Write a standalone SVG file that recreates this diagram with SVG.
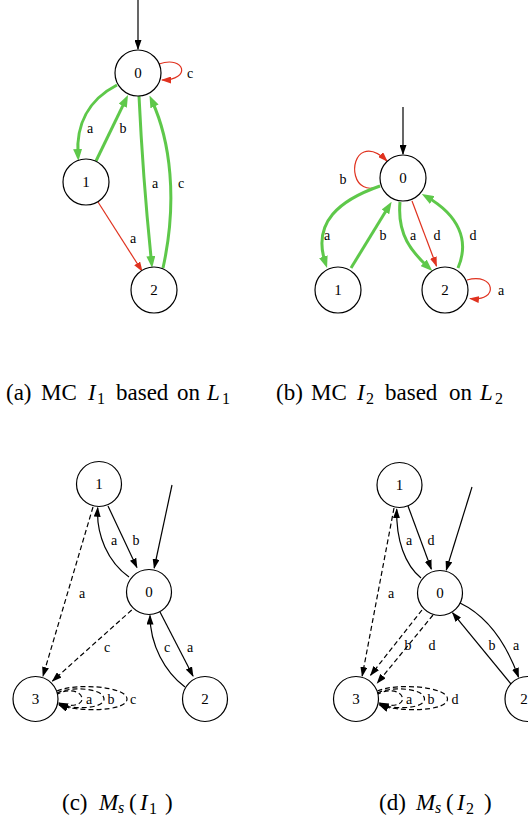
<svg xmlns="http://www.w3.org/2000/svg" width="528" height="818" viewBox="0 0 528 818">
<style>
.n circle{fill:#fff;stroke:#000;stroke-width:1.2}
.n text{font-family:"Liberation Serif",serif;font-size:15px;text-anchor:middle;fill:#000}
.k{fill:none;stroke:#000;stroke-width:1.2;marker-end:url(#aK)}
.d{stroke-dasharray:5,3}
.r{fill:none;stroke:#e0321f;stroke-width:1.2;marker-end:url(#aR)}
.g{fill:none;stroke:#5ec84a;stroke-width:3;marker-end:url(#aG)}
.l text{font-family:"Liberation Serif",serif;font-size:14px;text-anchor:middle;fill:#000}
.cap{font-family:"Liberation Serif",serif;font-size:23px;fill:#000}
.cap .i{font-style:italic}
.cap .s{font-size:16px}
</style>
<defs>
<marker id="aK" viewBox="0 0 10 7" refX="9" refY="3.5" markerWidth="10" markerHeight="7" markerUnits="userSpaceOnUse" orient="auto"><path d="M0,0L10,3.5L0,7z" fill="#000"/></marker>
<marker id="aR" viewBox="0 0 10 7" refX="9" refY="3.5" markerWidth="10" markerHeight="7" markerUnits="userSpaceOnUse" orient="auto"><path d="M0,0L10,3.5L0,7z" fill="#e0321f"/></marker>
<marker id="aG" viewBox="0 0 12 9" refX="6" refY="4.5" markerWidth="12" markerHeight="9" markerUnits="userSpaceOnUse" orient="auto"><path d="M0,0L12,4.5L0,9z" fill="#5ec84a"/></marker>
</defs>

<g id="connectors">
<!-- (a) -->
<path class="k" d="M138,0 L138,49"/>
<path class="r" d="M159,64 C185,55 192,80 162,80"/>
<path class="g" d="M117,85 C88,100 76,125 78,155"/>
<path class="g" d="M96,161 L125.4,100.4"/>
<path class="g" d="M139,96 Q143,180 151.5,262"/>
<path class="g" d="M163,268 C178,200 170,140 152,101"/>
<path class="r" d="M98,202 L142,271"/>
<!-- (b) -->
<path class="k" d="M403,107 L403,154"/>
<path class="r" d="M380,186 C352,198 348,158 364,152 C372,149 380,154 387,161"/>
<path class="g" d="M380,186 C340,200 312,222 325.2,262.3"/>
<path class="g" d="M351,268 L388.5,206.8"/>
<path class="g" d="M400,202 C397,235 412,252 428,267"/>
<path class="r" d="M412,201 L436.5,266"/>
<path class="g" d="M458,268 C470,240 458,215 427,197"/>
<path class="r" d="M467,280 C495,272 500,302 470,298.5"/>
<!-- (c) -->
<path class="k" d="M172,485 L154.2,568"/>
<path class="k" d="M129,577 C108,562 96,535 97.7,507.7"/>
<path class="k" d="M108,506 L136.9,567.4"/>
<path class="k d" d="M93,507 L43,676"/>
<path class="k d" d="M131.7,610 L52.5,681"/>
<path class="k" d="M160,612 L193,676"/>
<path class="k" d="M185,687 C165,672 150,645 150,615.5"/>
<path class="k d" d="M56,695 C66,688 82,690 82,699 C82,706 68,707 59,703"/>
<path class="k d" d="M57,693 C70,686 104,688 104,699 C104,709 72,710 59,704"/>
<path class="k d" d="M57,691 C74,683 127,686 127,699 C127,712 76,712 59,705"/>
<!-- (d) -->
<path class="k" d="M472,487 L446.3,570"/>
<path class="k" d="M421,578 C405,565 396,540 396.7,509.3"/>
<path class="k" d="M408,506 L431.3,569"/>
<path class="k d" d="M394,508 L362.2,676"/>
<path class="k d" d="M422,610 L370.6,675.2"/>
<path class="k d" d="M433,615 L377.3,683"/>
<path class="k" d="M460,603 C485,615 505,640 518.5,677"/>
<path class="k" d="M511,684 L452.6,612.8"/>
<path class="k d" d="M376.5,695 C386.5,688 402.5,690 402.5,699 C402.5,706 388.5,707 379.5,703"/>
<path class="k d" d="M377.5,693 C390.5,686 424.5,688 424.5,699 C424.5,709 392.5,710 379.5,704"/>
<path class="k d" d="M377.5,691 C394.5,683 447.5,686 447.5,699 C447.5,712 396.5,712 379.5,705"/>
</g>

<g id="edge-labels" class="l">
<text x="190" y="78">c</text>
<text x="90" y="133">a</text>
<text x="123" y="133">b</text>
<text x="155" y="188">a</text>
<text x="181" y="188">c</text>
<text x="133" y="243">a</text>

<text x="343" y="184">b</text>
<text x="327" y="240">a</text>
<text x="383" y="240">b</text>
<text x="413" y="240">a</text>
<text x="437" y="240">d</text>
<text x="473" y="240">d</text>
<text x="501" y="295">a</text>

<text x="114" y="545">a</text>
<text x="136" y="545">b</text>
<text x="82" y="598">a</text>
<text x="107" y="652">c</text>
<text x="190" y="652">a</text>
<text x="167" y="652">c</text>
<text x="89" y="704">a</text>
<text x="111" y="704">b</text>
<text x="133" y="704">c</text>

<text x="409" y="545">a</text>
<text x="431" y="545">d</text>
<text x="391" y="598">a</text>
<text x="408" y="650">b</text>
<text x="432" y="650">d</text>
<text x="516" y="650">a</text>
<text x="492" y="650">b</text>
<text x="409" y="704">a</text>
<text x="431" y="704">b</text>
<text x="455" y="704">d</text>
</g>

<g id="a0" class="n"><circle cx="138" cy="73" r="23"/><text x="138" y="78">0</text></g>
<g id="a1" class="n"><circle cx="86" cy="182" r="23"/><text x="86" y="187">1</text></g>
<g id="a2" class="n"><circle cx="154" cy="290" r="23"/><text x="154" y="295">2</text></g>

<g id="b0" class="n"><circle cx="403" cy="178" r="23"/><text x="403" y="183">0</text></g>
<g id="b1" class="n"><circle cx="338" cy="290" r="23"/><text x="338" y="295">1</text></g>
<g id="b2" class="n"><circle cx="445" cy="290" r="23"/><text x="445" y="295">2</text></g>

<g id="c1" class="n"><circle cx="99" cy="484" r="22.5"/><text x="99" y="489">1</text></g>
<g id="c0" class="n"><circle cx="149" cy="592" r="22.5"/><text x="149" y="597">0</text></g>
<g id="c3" class="n"><circle cx="35.5" cy="699" r="22.5"/><text x="35.5" y="704">3</text></g>
<g id="c2" class="n"><circle cx="205" cy="699" r="22.5"/><text x="205" y="704">2</text></g>

<g id="d1" class="n"><circle cx="399.5" cy="485" r="22.5"/><text x="399.5" y="490">1</text></g>
<g id="d0" class="n"><circle cx="440" cy="593" r="22.5"/><text x="440" y="598">0</text></g>
<g id="d3" class="n"><circle cx="356" cy="699" r="22.5"/><text x="356" y="704">3</text></g>
<g id="d2" class="n"><circle cx="527.5" cy="699" r="22.5"/><text x="524" y="704">2</text></g>

<g id="captions" class="cap">
<text x="6" y="400">(a)</text><text x="41" y="400">MC</text><text class="i" x="88" y="400">I</text><text class="s" x="97" y="404">1</text><text x="116" y="400">based</text><text x="177" y="400">on</text><text class="i" x="207" y="400">L</text><text class="s" x="222" y="404">1</text>
<text x="276" y="400">(b)</text><text x="311" y="400">MC</text><text class="i" x="357" y="400">I</text><text class="s" x="366" y="404">2</text><text x="385" y="400">based</text><text x="449" y="400">on</text><text class="i" x="480" y="400">L</text><text class="s" x="495" y="404">2</text>
<text x="62" y="810">(c)</text><text class="i" x="99" y="810">M</text><text class="i s" x="118" y="813">s</text><text x="129" y="810">(</text><text class="i" x="140" y="810">I</text><text class="s" x="149" y="814">1</text><text x="165" y="810">)</text>
<text x="379" y="810">(d)</text><text class="i" x="416" y="810">M</text><text class="i s" x="435" y="813">s</text><text x="446" y="810">(</text><text class="i" x="457" y="810">I</text><text class="s" x="466" y="814">2</text><text x="484" y="810">)</text>
</g>
</svg>
